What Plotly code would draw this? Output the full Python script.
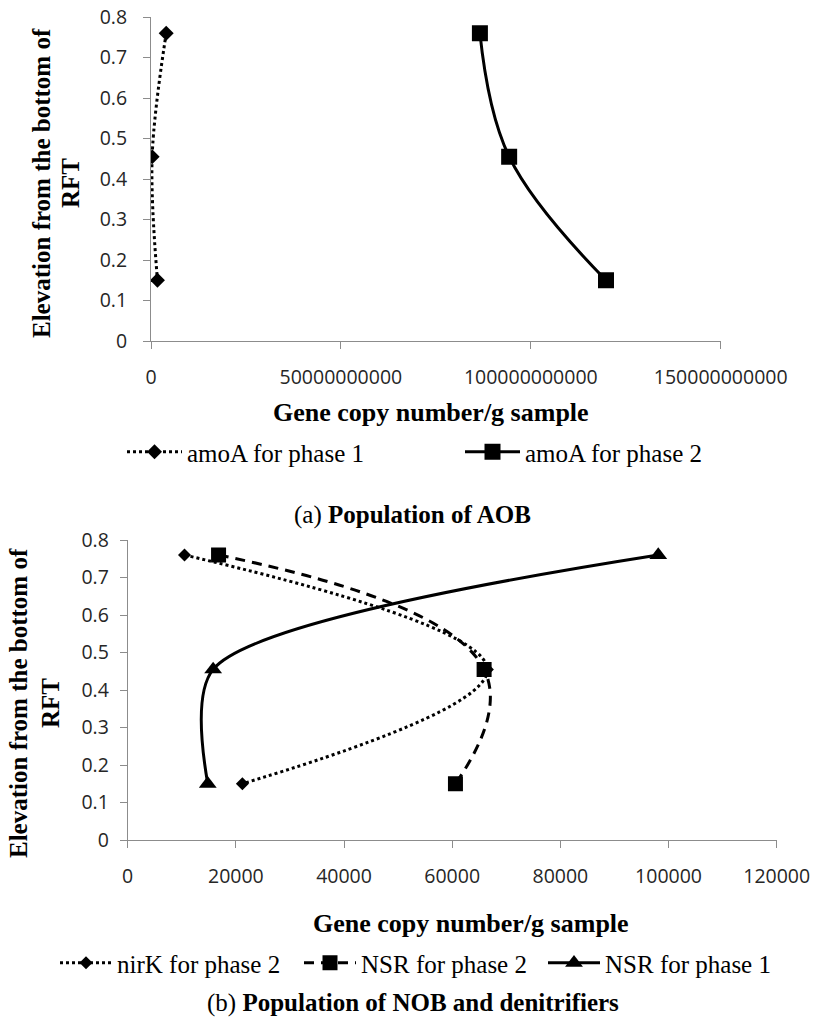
import plotly.graph_objects as go

W, H = 814, 1019

# ---- data ----
elev = [0.76, 0.455, 0.15]

amoA_p1 = [4.0e9, 0.3e9, 1.7e9]
amoA_p2 = [86.6e9, 94.3e9, 119.8e9]

nirK_p2 = [10500, 66500, 21200]
nsr_p2 = [16800, 65900, 60600]
nsr_p1 = [98100, 15800, 14800]

top_xticks = [0, 50000000000, 100000000000, 150000000000]
bot_xticks = [0, 20000, 40000, 60000, 80000, 100000, 120000]
yticks = [0, 0.1, 0.2, 0.3, 0.4, 0.5, 0.6, 0.7, 0.8]

SERIF = "Liberation Serif, Times New Roman, serif"
SANS = "Open Sans, Lato, sans-serif"

def px_x(p):
    return p / W

def px_y(p):
    return 1 - p / H

fig = go.Figure()

fig.add_trace(go.Scatter(
    x=amoA_p1, y=elev, mode="lines+markers", name="amoA for phase 1",
    line=dict(color="black", width=3, dash="dot", shape="spline", smoothing=1.0),
    marker=dict(symbol="diamond", size=11.5, color="black"),
    xaxis="x", yaxis="y", legend="legend"))
fig.add_trace(go.Scatter(
    x=amoA_p2, y=elev, mode="lines+markers", name="amoA for phase 2",
    line=dict(color="black", width=3, shape="spline", smoothing=1.1),
    marker=dict(symbol="square", size=16, color="black"),
    xaxis="x", yaxis="y", legend="legend"))

fig.add_trace(go.Scatter(
    x=nirK_p2, y=elev, mode="lines+markers", name="nirK for phase 2",
    line=dict(color="black", width=3, dash="dot", shape="spline", smoothing=1.1),
    marker=dict(symbol="diamond", size=10, color="black"),
    xaxis="x2", yaxis="y2", legend="legend2"))
fig.add_trace(go.Scatter(
    x=nsr_p2, y=elev, mode="lines+markers", name="NSR for phase 2",
    line=dict(color="black", width=3, dash="10px,7px", shape="spline", smoothing=1.3),
    marker=dict(symbol="square", size=15, color="black"),
    xaxis="x2", yaxis="y2", legend="legend2"))
fig.add_trace(go.Scatter(
    x=nsr_p1, y=elev, mode="lines+markers", name="NSR for phase 1",
    line=dict(color="black", width=3, shape="spline", smoothing=0.8),
    marker=dict(symbol="triangle-up", size=15.5, color="black"),
    xaxis="x2", yaxis="y2", legend="legend2"))

axis_common = dict(
    showline=True, linecolor="#8c8c8c", linewidth=1,
    ticks="outside", ticklen=7, tickcolor="#8c8c8c", tickwidth=1,
    showgrid=False, zeroline=False, automargin=False,
    tickfont=dict(family=SANS, size=19.5, color="#262626"),
)

legend_common = dict(
    orientation="h", xanchor="left", yanchor="middle",
    xref="container", yref="container",
    font=dict(family=SERIF, size=25, color="black"),
    bgcolor="rgba(0,0,0,0)", itemclick=False, itemdoubleclick=False,
)

fig.update_layout(
    width=W, height=H,
    margin=dict(l=0, r=0, t=0, b=0, autoexpand=False),
    paper_bgcolor="white", plot_bgcolor="white",
    xaxis=dict(domain=[px_x(151), px_x(720.7)], range=[0, 150e9],
               tickvals=top_xticks, tickformat="d", anchor="y",
               ticklabelstandoff=12, **axis_common),
    yaxis=dict(domain=[px_y(341), px_y(17)], range=[0, 0.8],
               tickvals=yticks, anchor="x", ticklabelstandoff=12, **axis_common),
    xaxis2=dict(domain=[px_x(127.7), px_x(776.7)], range=[0, 120000],
                tickvals=bot_xticks, tickformat="d", anchor="y2",
                ticklabelstandoff=12, **axis_common),
    yaxis2=dict(domain=[px_y(840), px_y(540)], range=[0, 0.8],
                tickvals=yticks, anchor="x2", ticklabelstandoff=7, **axis_common),
    legend=dict(x=px_x(122), y=px_y(452), entrywidth=268, itemwidth=55, **legend_common),
    legend2=dict(x=px_x(55), y=px_y(963), entrywidth=177, itemwidth=52, **legend_common),
    showlegend=True,
)

ann_font = dict(family=SERIF, size=25, color="black")
xt_font = dict(family=SERIF, size=26, color="black")
annotations = [
    dict(text="<b>Elevation from the bottom of</b>", x=px_x(41), y=px_y(183), textangle=-90, font=ann_font),
    dict(text="<b>RFT</b>", x=px_x(70), y=px_y(183), textangle=-90, font=ann_font),
    dict(text="<b>Elevation from the bottom of</b>", x=px_x(18), y=px_y(703), textangle=-90, font=ann_font),
    dict(text="<b>RFT</b>", x=px_x(50), y=px_y(703), textangle=-90, font=ann_font),
    dict(text="<b>Gene copy number/g sample</b>", x=px_x(431), y=px_y(413), font=xt_font),
    dict(text="<b>Gene copy number/g sample</b>", x=px_x(471), y=px_y(923), font=xt_font),
    dict(text="(a) <b>Population of AOB</b>", x=px_x(412), y=px_y(515), font=ann_font),
    dict(text="(b) <b>Population of NOB and denitrifiers</b>", x=px_x(413), y=px_y(1003), font=ann_font),
]
for a in annotations:
    fig.add_annotation(xref="paper", yref="paper", xanchor="center", yanchor="middle",
                       showarrow=False, **a)

fig.write_html(
    "out.html",
    config={"displayModeBar": False},
    post_script="document.body.style.margin='0px';document.body.style.overflow='hidden';",
)
